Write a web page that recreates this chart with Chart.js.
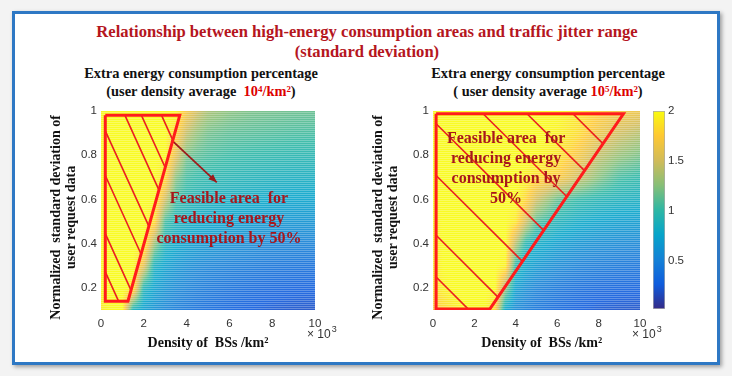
<!DOCTYPE html>
<html>
<head>
<meta charset="utf-8">
<script src="https://cdn.jsdelivr.net/npm/chart.js@4.4.1/dist/chart.umd.min.js"></script>
<style>
  html, body { margin: 0; padding: 0; background: #f3f3f3; }
  body { width: 732px; height: 376px; position: relative; overflow: hidden; font-family: "Liberation Serif", serif; }
  #frame { position: absolute; left: 12px; top: 11px; width: 708px; height: 354px; box-sizing: border-box;
           border: 3px solid #2e78c4; background: #fff; box-shadow: 2px 2px 4px rgba(0,0,0,0.35); }
  .title { position: absolute; left: 0; top: 22px; width: 734px; text-align: center; font-weight: bold;
           color: #b5161e; font-size: 16.6px; line-height: 20px; }
  .sub { position: absolute; top: 64px; width: 320px; text-align: center; font-weight: bold; font-size: 14.4px;
         line-height: 18px; color: #111; }
  .red { color: #dd0000; }
  sup { font-size: 0.62em; position: relative; top: -0.45em; vertical-align: baseline; line-height: 0; }
  canvas { position: absolute; }
</style>
</head>
<body>
<div id="frame"></div>
<div class="title">Relationship between high-energy consumption areas and traffic jitter range<br>(standard deviation)</div>
<div class="sub" style="left:41px">Extra energy consumption percentage<br>(user density average&nbsp; <span class="red">10<sup>4</sup>/km<sup>2</sup></span>)</div>
<div class="sub" style="left:388px">Extra energy consumption percentage<br>( user density average <span class="red">10<sup>5</sup>/km<sup>2</sup></span>)</div>
<canvas id="low" width="345" height="260" style="left:0;top:100px"></canvas>
<canvas id="high" width="330" height="260" style="left:340px;top:100px"></canvas>
<canvas id="cbar" width="60" height="260" style="left:645px;top:100px"></canvas>
<script>
// axes
const xTicks = [0, 2, 4, 6, 8, 10];
const yTicks = [0.2, 0.4, 0.6, 0.8, 1];
const cbTicks = [0.5, 1, 1.5, 2];
const cMin = 0.02, cMax = 2;

const densityCols = [0, 0.5, 1, 1.5, 2, 2.5, 3, 3.5, 4, 4.5, 5, 6, 7, 8, 9, 10];
const stdRows = [0.1, 0.2, 0.3, 0.4, 0.5, 0.6, 0.7, 0.8, 0.9, 1.0];

// extra energy consumption, user density 10^4/km^2 (rows = stdRows)
const extraLow = [
  [1.9, 2, 2, 0.85, 0.7, 0.6, 0.52, 0.46, 0.42, 0.38, 0.35, 0.3, 0.26, 0.23, 0.21, 0.2],
  [2, 2, 2, 1.95, 0.9, 0.72, 0.62, 0.55, 0.5, 0.46, 0.43, 0.38, 0.34, 0.31, 0.29, 0.28],
  [2, 2, 2, 2, 1.6, 0.85, 0.72, 0.64, 0.58, 0.54, 0.51, 0.47, 0.44, 0.41, 0.39, 0.38],
  [2, 2, 2, 2, 2, 1.3, 0.88, 0.78, 0.72, 0.68, 0.65, 0.6, 0.56, 0.53, 0.51, 0.5],
  [2, 2, 2, 2, 2, 1.85, 1.05, 0.9, 0.84, 0.8, 0.77, 0.72, 0.68, 0.65, 0.63, 0.62],
  [2, 2, 2, 2, 2, 2, 1.5, 1.05, 0.95, 0.9, 0.87, 0.83, 0.8, 0.77, 0.75, 0.74],
  [2, 2, 2, 2, 2, 2, 1.85, 1.25, 1.05, 1.0, 0.97, 0.93, 0.9, 0.87, 0.85, 0.84],
  [2, 2, 2, 2, 2, 2, 2, 1.6, 1.2, 1.12, 1.07, 1.02, 0.99, 0.97, 0.95, 0.94],
  [2, 2, 2, 2, 2, 2, 2, 1.8, 1.45, 1.28, 1.18, 1.12, 1.1, 1.08, 1.06, 1.05],
  [2, 2, 2, 2, 2, 2, 2, 2, 1.7, 1.5, 1.35, 1.25, 1.2, 1.18, 1.16, 1.15]
];

// extra energy consumption, user density 10^5/km^2
const extraHigh = [
  [1.7, 1.8, 1.9, 2, 2, 2, 1.8, 0.72, 0.55, 0.47, 0.41, 0.33, 0.27, 0.23, 0.21, 0.2],
  [1.85, 1.95, 2, 2, 2, 2, 2, 1.3, 0.7, 0.58, 0.5, 0.42, 0.36, 0.32, 0.3, 0.29],
  [1.9, 2, 2, 2, 2, 2, 2, 1.95, 0.95, 0.75, 0.66, 0.56, 0.49, 0.45, 0.42, 0.4],
  [1.9, 2, 2, 2, 2, 2, 2, 2, 1.4, 0.92, 0.82, 0.7, 0.63, 0.58, 0.55, 0.53],
  [1.95, 2, 2, 2, 2, 2, 2, 2, 1.9, 1.5, 1.1, 0.9, 0.8, 0.74, 0.7, 0.68],
  [2, 2, 2, 2, 2, 2, 2, 2, 2, 1.8, 1.5, 1.15, 1.0, 0.92, 0.87, 0.84],
  [2, 2, 2, 2, 2, 2, 2, 2, 2, 1.95, 1.85, 1.75, 1.5, 1.25, 1.05, 0.98],
  [2, 2, 2, 2, 2, 2, 2, 2, 2, 2, 2, 1.9, 1.7, 1.45, 1.3, 1.2],
  [2, 2, 2, 2, 2, 2, 2, 2, 2, 2, 2, 1.95, 1.85, 1.65, 1.5, 1.4],
  [2, 2, 2, 2, 2, 2, 2, 2, 2, 2, 2, 2, 1.9, 1.78, 1.7, 1.65]
];

// feasible areas (outline) and their hatching [x1, y1, x2, y2]
const lowArea = [[0.2, 0.98], [3.68, 0.98], [1.26, 0.14], [0.2, 0.14], [0.2, 0.98]];
const highArea = [[0.15, 0.987], [9.2, 0.987], [2.75, 0.105], [0.15, 0.105], [0.15, 0.987]];
const lowHatch = [
  [1.11, 0.982, 2.71, 0.642], [1.88, 0.982, 3.0, 0.744], [2.82, 0.982, 3.36, 0.867],
  [0.2, 0.91, 2.24, 0.478], [0.2, 0.708, 1.87, 0.353], [0.2, 0.445, 1.4, 0.19], [0.2, 0.272, 0.82, 0.14]
];
const highHatch = [
  [2.42, 0.987, 6.46, 0.613], [4.54, 0.987, 7.32, 0.73], [6.76, 0.987, 8.21, 0.852],
  [0.15, 0.942, 5.35, 0.46], [0.15, 0.708, 4.32, 0.32], [0.15, 0.438, 3.14, 0.158], [0.15, 0.249, 1.69, 0.105]
];
const lowArrow = [[3.3, 0.868], [5.41, 0.677]];

const lowNote = ['Feasible area  for', 'reducing energy', 'consumption by 50%'];
const highNote = ['Feasible area  for', 'reducing energy', 'consumption by', '50%'];

// parula-ish colour stops
const parula = [
  [0, 53, 42, 135], [0.125, 15, 92, 221], [0.25, 20, 129, 214], [0.375, 6, 164, 202],
  [0.5, 46, 183, 164], [0.625, 135, 191, 119], [0.75, 209, 187, 89], [0.875, 254, 200, 50], [1, 249, 251, 14]
];

function cmap(v) {
  let f = (v - cMin) / (cMax - cMin);
  f = Math.max(0, Math.min(1, f));
  let i = 0;
  while (i < parula.length - 2 && f > parula[i + 1][0]) i++;
  const a = parula[i], b = parula[i + 1];
  const t = (f - a[0]) / (b[0] - a[0]);
  return [a[1] + (b[1] - a[1]) * t, a[2] + (b[2] - a[2]) * t, a[3] + (b[3] - a[3]) * t];
}

function heatmap(z) {
  return {
    id: 'heat',
    beforeDatasetsDraw(chart) {
      const { ctx, chartArea: a, scales: { x, y } } = chart;
      const w = Math.round(a.right - a.left), h = Math.round(a.bottom - a.top);
      const off = document.createElement('canvas');
      off.width = w; off.height = h;
      const octx = off.getContext('2d');
      const img = octx.createImageData(w, h);
      for (let j = 0; j < h; j++) {
        const Y = y.getValueForPixel(a.top + j + 0.5);
        let r = 0;
        while (r < stdRows.length - 2 && Y > stdRows[r + 1]) r++;
        const t = Math.max(0, Math.min(1, (Y - stdRows[r]) / (stdRows[r + 1] - stdRows[r])));
        const stripe = j % 2 ? 0.36 : 0.08;  // scan lines seen in the original
        for (let k = 0; k < w; k++) {
          const X = x.getValueForPixel(a.left + k + 0.5);
          let c = 0;
          while (c < densityCols.length - 2 && X > densityCols[c + 1]) c++;
          const u = Math.max(0, Math.min(1, (X - densityCols[c]) / (densityCols[c + 1] - densityCols[c])));
          const v = (z[r][c] * (1 - u) + z[r][c + 1] * u) * (1 - t) + (z[r + 1][c] * (1 - u) + z[r + 1][c + 1] * u) * t;
          const col = cmap(v);
          const p = (j * w + k) * 4;
          img.data[p] = col[0] + (255 - col[0]) * stripe;
          img.data[p + 1] = col[1] + (255 - col[1]) * stripe;
          img.data[p + 2] = col[2] + (255 - col[2]) * stripe;
          img.data[p + 3] = 255;
        }
      }
      octx.putImageData(img, 0, 0);
      ctx.drawImage(off, a.left, a.top);
    }
  };
}

function notes(lines, at, arrow) {
  return {
    id: 'notes',
    afterDatasetsDraw(chart) {
      const { ctx, scales: { x, y }, chartArea: a } = chart;
      ctx.save();
      if (arrow) {
        const x0 = x.getPixelForValue(arrow[0][0]), y0 = y.getPixelForValue(arrow[0][1]);
        const x1 = x.getPixelForValue(arrow[1][0]), y1 = y.getPixelForValue(arrow[1][1]);
        const ang = Math.atan2(y1 - y0, x1 - x0);
        ctx.fillStyle = '#9e1b1b';
        ctx.beginPath();
        ctx.moveTo(x1, y1);
        ctx.lineTo(x1 - 9 * Math.cos(ang - 0.4), y1 - 9 * Math.sin(ang - 0.4));
        ctx.lineTo(x1 - 9 * Math.cos(ang + 0.4), y1 - 9 * Math.sin(ang + 0.4));
        ctx.closePath();
        ctx.fill();
      }
      ctx.font = 'bold 16px "Liberation Serif"';
      ctx.fillStyle = '#a8161c';
      ctx.textAlign = 'center';
      ctx.textBaseline = 'middle';
      const cx = x.getPixelForValue(at[0]);
      const cy = y.getPixelForValue(at[1]);
      lines.forEach((s, i) => ctx.fillText(s, cx, cy + i * 20));
      // x exponent
      ctx.fillStyle = '#333';
      ctx.textAlign = 'left';
      ctx.font = '12px "Liberation Sans"';
      ctx.fillText('\u00d7 10', a.right - 8, a.bottom + 25);
      const wd = ctx.measureText('\u00d7 10').width;
      ctx.font = '9px "Liberation Sans"';
      ctx.fillText('3', a.right - 8 + wd + 1, a.bottom + 20);
      ctx.restore();
    }
  };
}

const pts = arr => arr.map(p => ({ x: p[0], y: p[1] }));
const fmt = v => String(+(+v).toFixed(2));
const tickFont = { family: '"Liberation Sans"', size: 11.5 };
const axisTitleFont = { family: '"Liberation Serif"', size: 14, weight: 'bold', lineHeight: 1.05 };

function panel(id, z, area, hatch, arrow, note, noteAt, yAxisWidth, yTitlePad, xTitle) {
  const datasets = [{
    data: pts(area), showLine: true, borderColor: '#ff1c1c', borderWidth: 3, pointRadius: 0,
    borderJoinStyle: 'miter', fill: false
  }];
  hatch.forEach(h => datasets.push({
    data: [{ x: h[0], y: h[1] }, { x: h[2], y: h[3] }], showLine: true,
    borderColor: '#ea1f1f', borderWidth: 1.6, pointRadius: 0, fill: false
  }));
  if (arrow) datasets.push({
    data: pts(arrow), showLine: true, borderColor: '#9e1b1b', borderWidth: 1.8, pointRadius: 0, fill: false
  });
  return new Chart(document.getElementById(id), {
    type: 'scatter',
    data: { datasets },
    options: {
      responsive: false,
      animation: false,
      layout: { padding: { left: 0, right: 30, top: 9, bottom: 0 } },
      plugins: { legend: { display: false }, tooltip: { enabled: false } },
      scales: {
        x: {
          type: 'linear', min: 0, max: 10,
          afterBuildTicks: s => { s.ticks = xTicks.map(v => ({ value: v })); },
          grid: { display: false, drawTicks: false }, border: { display: false },
          ticks: { padding: 7, font: tickFont, color: '#333', maxRotation: 0, callback: fmt },
          title: { display: true, text: xTitle, font: axisTitleFont, color: '#111', padding: { top: 0, bottom: 9 } },
          afterFit: s => { s.height = 50; }
        },
        y: {
          type: 'linear', min: 0.1, max: 1,
          afterBuildTicks: s => { s.ticks = yTicks.map(v => ({ value: v })); },
          grid: { display: false, drawTicks: false }, border: { display: false },
          ticks: { padding: 4, font: tickFont, color: '#333', callback: fmt },
          title: {
            display: true,
            text: ['Normalized  standard deviation of    ', 'user request data    '],
            font: axisTitleFont, color: '#111', padding: { top: yTitlePad, bottom: 0 }
          },
          afterFit: s => { s.width = yAxisWidth; }
        }
      }
    },
    plugins: [heatmap(z), notes(note, noteAt, arrow)]
  });
}

panel('low', extraLow, lowArea, lowHatch, lowArrow, lowNote, [5.98, 0.604], 101, 49, 'Density of  BSs /km\u00b2');
panel('high', extraHigh, highArea, highHatch, null, highNote, [3.53, 0.874], 93, 31, '   Density of  BSs /km\u00b2');

// colour bar
new Chart(document.getElementById('cbar'), {
  type: 'bar',
  data: {
    labels: [''],
    datasets: [{
      data: [[cMin, cMax]],
      backgroundColor: c => {
        const ch = c.chart;
        if (!ch.chartArea) return '#888';
        const ys = ch.scales.y;
        const g = ch.ctx.createLinearGradient(0, ys.getPixelForValue(cMin), 0, ys.getPixelForValue(cMax));
        parula.forEach(s => g.addColorStop(s[0], 'rgb(' + s[1] + ',' + s[2] + ',' + s[3] + ')'));
        return g;
      },
      borderColor: '#aaa', borderWidth: 1, borderSkipped: false,
      categoryPercentage: 1, barPercentage: 1
    }]
  },
  options: {
    responsive: false,
    animation: false,
    layout: { padding: { left: 8, right: 0, top: 11, bottom: 51 } },
    plugins: { legend: { display: false }, tooltip: { enabled: false } },
    scales: {
      x: { display: false },
      y: {
        position: 'right', min: cMin, max: cMax,
        afterBuildTicks: s => { s.ticks = cbTicks.map(v => ({ value: v })); },
        grid: { display: false, drawTicks: false }, border: { display: false },
        ticks: { padding: 3, font: tickFont, color: '#333', callback: fmt },
        afterFit: s => { s.width = 40; }
      }
    }
  }
});
</script>
</body>
</html>
